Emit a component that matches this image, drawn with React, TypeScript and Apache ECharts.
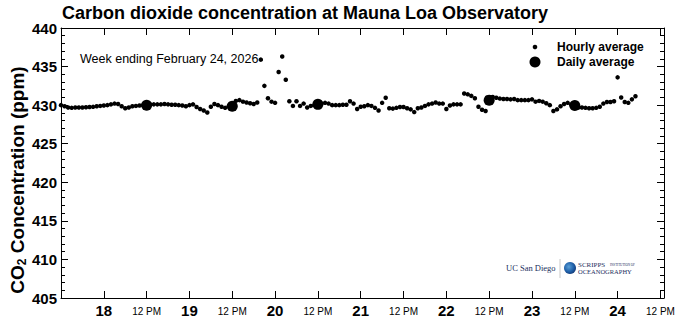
import React, { useEffect, useRef } from "react";
import * as echarts from "echarts";

const titleText = "Carbon dioxide concentration at Mauna Loa Observatory";
const subtitleText = "Week ending February 24, 2026";
const legendLabels = ["Hourly average", "Daily average"];
const firstDay = 17;

// hours counted from Feb 17 00:00
const hourlyStart = 12;
const hourlyValues = [
  430.0, 429.85, 429.7, 429.65, 429.7, 429.7, 429.7, 429.72, 429.75, 429.78, 429.85, 429.9,
  429.95, 430.0, 430.1, 430.2, 430.15, 429.85, 429.6, 429.7, 429.85, 429.9, 429.95, 430.0,
  430.05, 430.1, 430.1, 430.1, 430.1, 430.15, 430.1, 430.05, 430.05, 430.0, 429.95, 429.85,
  430.0, 430.1, 429.75, 429.5, 429.3, 429.05, 429.8, 430.15, 430.0, 429.8, 429.65, 429.85,
  430.1, 430.55, 430.65, 430.45, 430.35, 430.25, 430.15, 430.35, 435.9, 432.5, 430.9, 430.45,
  430.3, 434.3, 436.3, 433.3, 430.5, 429.9, 430.5, 429.9, 430.2, 429.7, 429.9, 430.0,
  430.15, 430.2, 430.3, 430.2, 430.0, 430.0, 430.0, 430.05, 430.05, 430.5, 430.2, 429.5,
  429.8, 429.85, 430.0, 429.9, 429.65, 429.3, 430.3, 430.95, 429.6, 429.55, 429.65, 429.75,
  429.75, 429.6, 429.45, 429.1, 429.6, 429.7, 429.9, 430.1, 430.2, 430.35, 430.2, 430.2,
  429.5, 429.95, 430.1, 430.1, 430.1, 431.5, 431.4, 431.2, 430.9, 429.8, 429.4, 429.25,
  430.9, 431.05, 430.95, 430.85, 430.8, 430.8, 430.75, 430.8, 430.65, 430.65, 430.65, 430.65,
  430.75, 430.45, 430.55, 430.45, 430.25, 430.0, 429.25, 429.45, 429.85, 430.15, 430.3, 430.05,
  429.85, 429.7, 429.7, 429.65, 429.6, 429.6, 429.65, 429.8, 430.2, 430.4, 430.4, 430.5,
  433.6, 431.0, 430.4, 430.3, 430.75, 431.15,
];
const dailyHours = [36, 60, 84, 132, 156];
const dailyValues = [430.0, 429.85, 430.1, 430.65, 429.95];

const xMin = 12;
const xMax = 181;
const xInterval = 12;
const yMin = 405;
const yMax = 440;
const yInterval = 5;

const FONT = "Liberation Sans, Arial, Helvetica, sans-serif";
const SERIF = "Liberation Serif, Times New Roman, serif";

export default function App() {
  const ref = useRef<HTMLDivElement>(null);
  useEffect(() => {
    if (!ref.current) return;
    const chart = echarts.init(ref.current, null, { renderer: "svg" });
    const hourly = hourlyValues.map((v, i) => [hourlyStart + i, v]);
    const daily = dailyValues.map((v, i) => [dailyHours[i], v]);

    const xLabel = (val: number) => {
      if (val % 24 === 0) return "{d|" + (firstDay + val / 24) + "}";
      if (val % 24 === 12 && val !== xMin) return "{p|12 PM}";
      return "";
    };

    const baseX = {
      type: "value",
      min: xMin,
      max: xMax,
      interval: xInterval,
      splitLine: { show: false },
      axisLine: { show: true, onZero: false, lineStyle: { color: "#000", width: 1 } },
      axisTick: { show: true, inside: true, length: 7, lineStyle: { color: "#000", width: 1 } },
    };
    const baseY = {
      type: "value",
      min: yMin,
      max: yMax,
      interval: yInterval,
      splitLine: { show: false },
      axisLine: { show: true, onZero: false, lineStyle: { color: "#000", width: 1 } },
      axisTick: { show: true, inside: true, length: 7, lineStyle: { color: "#000", width: 1 } },
      minorTick: { show: true, splitNumber: 5, length: 4, lineStyle: { color: "#000", width: 1 } },
    };

    chart.setOption({
      animation: false,
      backgroundColor: "#fff",
      textStyle: { fontFamily: FONT },
      grid: { left: 61, right: 16, top: 28, bottom: 26, containLabel: false },
      xAxis: [
        {
          ...baseX,
          position: "bottom",
          axisLabel: {
            show: true,
            margin: 5,
            formatter: xLabel,
            showMinLabel: true,
            showMaxLabel: true,
            rich: {
              d: { fontFamily: FONT, fontWeight: "bold", fontSize: 15, color: "#000" },
              p: { fontFamily: FONT, fontSize: 10, color: "#000", padding: [3, 0, 0, 0] },
            },
          },
        },
        { ...baseX, position: "top", axisLabel: { show: false } },
      ],
      yAxis: [
        {
          ...baseY,
          position: "left",
          axisLabel: {
            show: true,
            margin: 4,
            fontFamily: FONT,
            fontWeight: "bold",
            fontSize: 15,
            color: "#000",
          },
        },
        { ...baseY, position: "right", axisLabel: { show: false } },
      ],
      series: [
        {
          name: legendLabels[0],
          type: "scatter",
          xAxisIndex: 0,
          yAxisIndex: 0,
          data: hourly,
          symbol: "circle",
          symbolSize: 4.5,
          itemStyle: { color: "#000", opacity: 1 },
          z: 3,
        },
        {
          name: legendLabels[1],
          type: "scatter",
          xAxisIndex: 0,
          yAxisIndex: 0,
          data: daily,
          symbol: "circle",
          symbolSize: 11,
          itemStyle: { color: "#000", opacity: 1 },
          z: 4,
        },
      ],
      graphic: [
        {
          type: "text",
          left: 62,
          top: 4,
          style: { text: titleText, fontFamily: FONT, fontWeight: "bold", fontSize: 18, fill: "#000" },
        },
        {
          type: "text",
          x: 17,
          y: 180,
          rotation: Math.PI / 2,
          style: {
            text: "CO{s|2} Concentration (ppm)",
            fontFamily: FONT,
            fontWeight: "bold",
            fontSize: 19,
            fill: "#000",
            align: "center",
            verticalAlign: "middle",
            rich: {
              s: { fontFamily: FONT, fontWeight: "bold", fontSize: 12, fill: "#000", padding: [10, 0, 0, 0] },
            },
          },
        },
        {
          type: "text",
          x: 80,
          y: 59,
          style: { text: subtitleText, fontFamily: FONT, fontSize: 12.5, fill: "#000", verticalAlign: "middle" },
        },
        { type: "circle", shape: { cx: 535, cy: 47, r: 2.3 }, style: { fill: "#000" } },
        { type: "circle", shape: { cx: 535, cy: 62, r: 5.5 }, style: { fill: "#000" } },
        {
          type: "text",
          x: 557,
          y: 47,
          style: { text: legendLabels[0], fontFamily: FONT, fontWeight: "bold", fontSize: 12, fill: "#000", verticalAlign: "middle" },
        },
        {
          type: "text",
          x: 557,
          y: 62,
          style: { text: legendLabels[1], fontFamily: FONT, fontWeight: "bold", fontSize: 12, fill: "#000", verticalAlign: "middle" },
        },
        // logos
        {
          type: "text",
          x: 506,
          y: 268,
          style: { text: "UC San Diego", fontFamily: SERIF, fontSize: 8.5, fill: "#1b2f5e", verticalAlign: "middle" },
        },
        { type: "line", shape: { x1: 560, y1: 259, x2: 560, y2: 278 }, style: { stroke: "#c8c8c8", lineWidth: 1 } },
        {
          type: "circle",
          shape: { cx: 570, cy: 268, r: 6 },
          style: {
            fill: new echarts.graphic.RadialGradient(0.4, 0.4, 0.7, [
              { offset: 0, color: "#5aa0d8" },
              { offset: 0.6, color: "#1f5fa8" },
              { offset: 1, color: "#10306a" },
            ]),
          },
        },
        {
          type: "text",
          x: 578,
          y: 264.5,
          style: { text: "SCRIPPS", fontFamily: SERIF, fontSize: 7, fill: "#1b2f5e", verticalAlign: "middle" },
        },
        {
          type: "text",
          x: 610,
          y: 265,
          style: { text: "INSTITUTION OF", fontFamily: SERIF, fontSize: 3.2, fill: "#1b2f5e", verticalAlign: "middle" },
        },
        {
          type: "text",
          x: 578,
          y: 271.5,
          style: { text: "OCEANOGRAPHY", fontFamily: SERIF, fontSize: 6.5, fill: "#1b2f5e", verticalAlign: "middle" },
        },
      ],
    });
    return () => chart.dispose();
  }, []);

  return (
    <div
      ref={ref}
      style={{ width: 680, height: 324, position: "absolute", left: 0, top: 0, background: "#fff" }}
    />
  );
}
